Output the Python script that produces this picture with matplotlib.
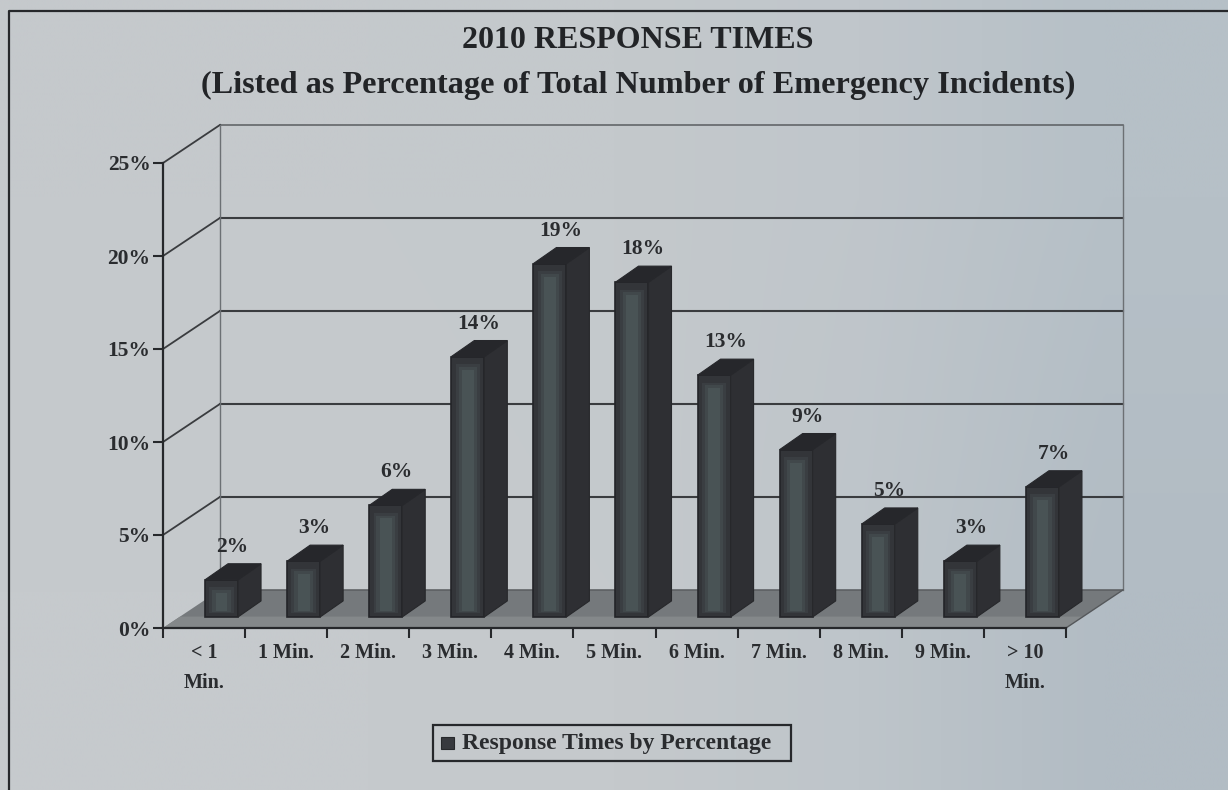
import numpy as np
import matplotlib
matplotlib.use('Agg')
import matplotlib.pyplot as plt
from matplotlib.patches import Polygon, Rectangle

categories=['< 1\nMin.','1 Min.','2 Min.','3 Min.','4 Min.','5 Min.','6 Min.','7 Min.','8 Min.','9 Min.','> 10\nMin.']
percent=[2,3,6,14,19,18,13,9,5,3,7]
yticks=[0,5,10,15,20,25]
title_lines=['2010 RESPONSE TIMES','(Listed as Percentage of Total Number of Emergency Incidents)']
legend_label='Response Times by Percentage'

W,H=1228,790
plt.rcParams['font.family']=['Liberation Serif','DejaVu Serif']
plt.rcParams['font.weight']='bold'
fig=plt.figure(figsize=(W/100,H/100),dpi=100)

# page background, bluer only near the right edge
bg=fig.add_axes([0,0,1,1])
shade=np.array([[[197,201,204],[197,201,204],[196,201,204],[192,198,203],[182,192,199]],
                [[198,202,205],[198,202,205],[197,201,204],[190,197,202],[178,188,196]]])/255
bg.imshow(shade,aspect='auto',interpolation='bilinear',extent=[0,W,H,0])
bg.set_xlim(0,W); bg.set_ylim(H,0); bg.axis('off')
bg.plot([9,9,W+5],[H+5,11,11],color='#26282b',lw=1.6)

# main axes sits on the front plane of the fake 3d box
L,R,T,B=163,1066,163,628
ax=fig.add_axes([L/W,1-B/H,(R-L)/W,(B-T)/H])
ax.set_xlim(-0.5,10.5); ax.set_ylim(0,25)
ax.patch.set_alpha(0)
for s in ['top','right']:
    ax.spines[s].set_visible(False)
for s in ['left','bottom']:
    ax.spines[s].set_color('#26282b'); ax.spines[s].set_linewidth(1.6)

ddx=57/82.1   # box depth in category units
ddy=38/18.56  # box depth in percent units
kw=dict(clip_on=False)
x0,x1=-0.5,10.5

# floor
ax.add_patch(Polygon([(x0,0),(x1,0),(x1+ddx,ddy),(x0+ddx,ddy)],fc='#75797c',ec='none',zorder=1,**kw))
ax.add_patch(Polygon([(x0,0),(x1,0),(x1+ddx*0.3,ddy*0.3),(x0+ddx*0.3,ddy*0.3)],fc='#84888a',ec='none',zorder=1,**kw))
# back wall and gridlines
for v in yticks:
    c='#3a3c3f' if 0<v<25 else '#5a5d60'
    ax.plot([x0+ddx,x1+ddx],[v+ddy,v+ddy],color=c,lw=1.5 if 0<v<25 else 1.1,zorder=1.5,**kw)
    if v>0:
        ax.plot([x0,x0+ddx],[v,v+ddy],color='#3a3c3f',lw=1.3,zorder=1.5,**kw)
ax.plot([x0+ddx,x0+ddx],[ddy,25+ddy],color='#6c7074',lw=1,zorder=1.5,**kw)
ax.plot([x1+ddx,x1+ddx],[ddy,25+ddy],color='#6c7074',lw=1,zorder=1.5,**kw)
ax.plot([x1,x1+ddx],[0,ddy],color='#55585b',lw=1,zorder=1.5,**kw)

# bars
xs=np.arange(len(percent))
bw=33/82.1
base=11/18.56
bx=xs+(221.5-204)/82.1
bdx=23/82.1
bdy=16/18.56
pv=np.array(percent)
ax.bar(bx,percent,bw,bottom=base,color='#333539',edgecolor='#232428',lw=1.2,zorder=3)
ax.bar(bx,pv-0.6,bw*0.74,bottom=base+0.2,color='#3a3e42',edgecolor='none',zorder=3.1)
ax.bar(bx,pv-0.8,bw*0.56,bottom=base+0.25,color='#41484b',edgecolor='none',zorder=3.2)
ax.bar(bx,pv-1.0,bw*0.36,bottom=base+0.3,color='#495355',edgecolor='none',zorder=3.3)
for x,v in zip(bx,percent):
    l,r=x-bw/2,x+bw/2
    top=v+base
    ax.add_patch(Polygon([(r,base),(r+bdx,base+bdy),(r+bdx,top+bdy),(r,top)],fc='#2e2f33',ec='#27282b',lw=0.8,zorder=3,**kw))
    ax.add_patch(Polygon([(l,top),(r,top),(r+bdx,top+bdy),(l+bdx,top+bdy)],fc='#26272b',ec='#26272b',lw=0.8,zorder=3,**kw))
    ax.annotate('%d%%'%v,(x,top+bdy),xytext=(8,5),textcoords='offset points',ha='center',va='bottom',fontsize=15.5,color='#2a2c2f',zorder=4)

ax.set_yticks(yticks)
ax.set_yticklabels(['%d%%'%v for v in yticks],fontsize=15.5,color='#2a2c2f')
ax.set_xticks(np.arange(-0.5,11,1))
ax.set_xticklabels([])
ax.tick_params(axis='both',color='#26282b',width=1.5,length=7,pad=2)
ax.tick_params(axis='y',direction='out',length=7)
for x,c in zip(xs,categories):
    ax.annotate(c,(x,0),xytext=(0,-11),textcoords='offset points',ha='center',va='top',fontsize=14.5,color='#2a2c2f',linespacing=1.66)

fig.text(638/W,1-41/H,title_lines[0],ha='center',va='center',fontsize=23,color='#222427')
fig.text(638/W,1-85/H,title_lines[1],ha='center',va='center',fontsize=23.2,color='#222427')

# legend box
bg.add_patch(Rectangle((433,725),358,36,fc='none',ec='#26282b',lw=1.6))
bg.add_patch(Rectangle((441,737),13,12,fc='#37393e',ec='#26282b',lw=0.8))
bg.text(462,744,legend_label,ha='left',va='center',fontsize=17,color='#2a2c2f')

fig.savefig('out.png',dpi=100)
